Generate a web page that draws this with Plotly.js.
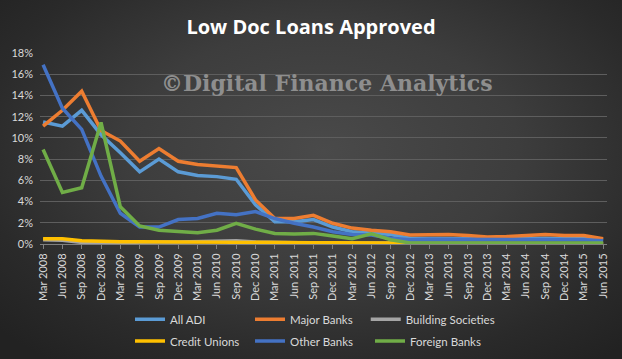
<!DOCTYPE html>
<html>
<head>
<meta charset="utf-8">
<script src="https://cdn.plot.ly/plotly-3.0.1.min.js"></script>
<style>
html,body{margin:0;padding:0;}
#chart{width:622px;height:359px;background:radial-gradient(ellipse 70% 75% at 52% 42%, #4a4a4a 0%, #3d3d3d 45%, #2a2a2a 80%, #222 100%);}
</style>
</head>
<body>
<div id="chart"></div>
<script>
var categories = ["Mar 2008","Jun 2008","Sep 2008","Dec 2008","Mar 2009","Jun 2009","Sep 2009","Dec 2009",
  "Mar 2010","Jun 2010","Sep 2010","Dec 2010","Mar 2011","Jun 2011","Sep 2011","Dec 2011",
  "Mar 2012","Jun 2012","Sep 2012","Dec 2012","Mar 2013","Jun 2013","Sep 2013","Dec 2013",
  "Mar 2014","Jun 2014","Sep 2014","Dec 2014","Mar 2015","Jun 2015"];

var allADI = [11.5, 11.1, 12.6, 10.3, 8.6, 6.8, 8.0, 6.8, 6.45, 6.35, 6.1, 3.7, 2.1, 2.1, 2.3, 1.6,
  1.15, 1.0, 0.9, 0.55, 0.55, 0.55, 0.5, 0.45, 0.5, 0.5, 0.55, 0.5, 0.55, 0.4];
var majorBanks = [11.1, 12.6, 14.4, 10.7, 9.7, 7.8, 9.0, 7.8, 7.5, 7.35, 7.2, 4.15, 2.4, 2.4, 2.7, 1.95,
  1.5, 1.3, 1.15, 0.85, 0.9, 0.9, 0.8, 0.65, 0.7, 0.8, 0.9, 0.8, 0.8, 0.5];
var buildingSocieties = [0.4, 0.35, 0.15, 0.1, 0.15, 0.2, 0.2, 0.2, 0.25, 0.3, 0.3, 0.2, 0.15, 0.1, 0.1, 0.1,
  0.1, 0.1, 0.05, 0.05, 0.05, 0.05, 0.05, 0.05, 0.05, 0.05, 0.05, 0.05, 0.05, 0.05];
var creditUnions = [0.5, 0.5, 0.3, 0.22, 0.22, 0.22, 0.2, 0.2, 0.2, 0.15, 0.15, 0.15, 0.12, 0.12, 0.12, 0.12,
  0.12, 0.12, 0.1, 0.02, 0.02, 0.02, 0.02, 0.02, 0.02, 0.02, 0.02, 0.02, 0.02, 0.02];
var otherBanks = [16.9, 12.8, 10.8, 6.4, 2.9, 1.6, 1.6, 2.3, 2.4, 2.9, 2.75, 3.05, 2.4, 1.95, 1.6, 1.15,
  0.9, 0.85, 0.55, 0.4, 0.45, 0.45, 0.4, 0.4, 0.4, 0.4, 0.45, 0.45, 0.4, 0.3];
var foreignBanks = [8.9, 4.85, 5.3, 11.45, 3.5, 1.7, 1.3, 1.2, 1.07, 1.3, 1.95, 1.4, 1.0, 0.95, 1.0, 0.75,
  0.5, 0.95, 0.4, 0.1, 0.1, 0.1, 0.1, 0.1, 0.1, 0.1, 0.1, 0.1, 0.1, 0.1];

var yTicks = [0, 2, 4, 6, 8, 10, 12, 14, 16, 18];
var yTickLabels = ["0%","2%","4%","6%","8%","10%","12%","14%","16%","18%"];

var font = "Lato, 'Open Sans', sans-serif";
function series(name, y, color, legend) {
  return {
    type: "scatter", mode: "lines", name: name,
    x: categories.map(function(c, i){ return i; }), y: y,
    line: {color: color, width: 3.5, shape: "linear"},
    legend: legend, hoverinfo: "skip"
  };
}

var traces = [
  series("All ADI", allADI, "#5B9BD5", "legend"),
  series("Major Banks", majorBanks, "#ED7D31", "legend"),
  series("Building Societies", buildingSocieties, "#A5A5A5", "legend3"),
  series("Credit Unions", creditUnions, "#FFC000", "legend2"),
  series("Other Banks", otherBanks, "#4472C4", "legend2"),
  series("Foreign Banks", foreignBanks, "#70AD47", "legend2")
];

var legendCommon = {
  orientation: "h", xref: "container", yref: "container",
  xanchor: "left", yanchor: "middle",
  bgcolor: "rgba(0,0,0,0)", font: {family: font, size: 11.5, color: "#d9d9d9"},
  entrywidth: 75, entrywidthmode: "pixels", traceorder: "normal", itemwidth: 30
};

var layout = {
  width: 622, height: 359,
  paper_bgcolor: "rgba(0,0,0,0)", plot_bgcolor: "rgba(0,0,0,0)",
  margin: {l: 40, r: 15, t: 53, b: 115},
  title: {text: "Low Doc Loans Approved", x: 0.5, xref: "container", xanchor: "center", y: 0.945, yref: "container",
    font: {family: "'Open Sans', sans-serif", size: 20, color: "#ffffff", weight: "bold"}},
  xaxis: {
    type: "linear", range: [-0.16, 29.2],
    tickmode: "array", tickvals: categories.map(function(c, i){ return i; }), ticktext: categories,
    tickangle: -90, tickfont: {family: font, size: 11, color: "#d9d9d9"},
    ticks: "outside", ticklen: 4, tickcolor: "#7f7f7f",
    showgrid: false, zeroline: false, showline: true, linecolor: "#7f7f7f", linewidth: 1
  },
  yaxis: {
    range: [0, 18], tickmode: "array", tickvals: yTicks, ticktext: yTickLabels,
    tickfont: {family: font, size: 11, color: "#d9d9d9"},
    showgrid: true, gridcolor: "#5e5e5e", gridwidth: 1,
    zeroline: false, showline: false, ticks: "", ticklabelstandoff: 6
  },
  showlegend: true,
  legend: Object.assign({}, legendCommon, {x: 0.209, y: 0.111}),
  legend2: Object.assign({}, legendCommon, {x: 0.209, y: 0.05}),
  legend3: Object.assign({}, legendCommon, {x: 0.588, y: 0.111, entrywidth: 0}),
  annotations: [{
    text: "©Digital Finance Analytics", xref: "paper", yref: "paper",
    x: 0.506, y: 0.843, xanchor: "center", yanchor: "middle", showarrow: false,
    font: {family: "'DejaVu Serif', serif", size: 22, color: "#8e8e8e", weight: "bold"}
  }]
};

Plotly.newPlot("chart", traces, layout, {displayModeBar: false, staticPlot: true});
</script>
</body>
</html>
